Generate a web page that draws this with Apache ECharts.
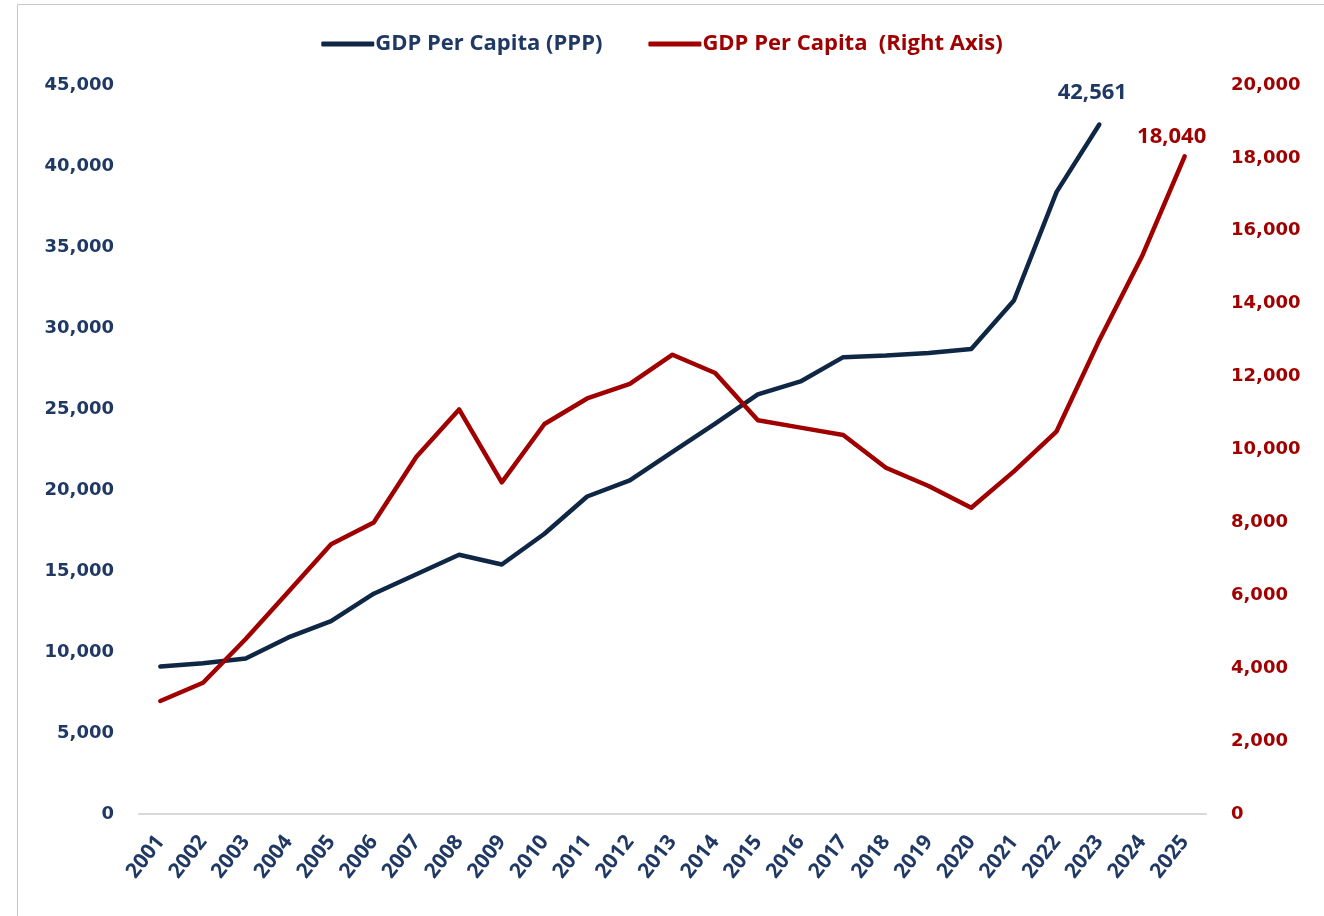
<!DOCTYPE html>
<html>
<head>
<meta charset="utf-8">
<script src="https://cdn.jsdelivr.net/npm/echarts@6/dist/echarts.min.js"></script>
<style>
  html, body { margin: 0; padding: 0; background: #fff; }
  #wrap { position: relative; width: 1324px; height: 916px; overflow: hidden; }
  #frame { position: absolute; left: 17px; top: 4px; width: 1400px; height: 1000px;
           border-left: 1px solid #c8c8c8; border-top: 1px solid #c8c8c8; }
  #chart { position: absolute; left: 0; top: 0; width: 1324px; height: 916px; }
</style>
</head>
<body>
<div id="wrap">
  <div id="frame"></div>
  <div id="chart"></div>
</div>
<script>
// data
var years = ['2001', '2002', '2003', '2004', '2005', '2006', '2007', '2008', '2009', '2010',
  '2011', '2012', '2013', '2014', '2015', '2016', '2017', '2018', '2019', '2020',
  '2021', '2022', '2023', '2024', '2025'];
var gdpPpp = [9100, 9300, 9600, 10900, 11900, 13600, 14800, 16000, 15400, 17300,
  19600, 20600, 22350, 24100, 25900, 26700, 28200, 28300, 28460, 28700,
  31700, 38400, 42561, null, null];
var gdpNominal = [3100, 3600, 4800, 6100, 7400, 8000, 9800, 11100, 9100, 10700,
  11400, 11800, 12600, 12100, 10800, 10600, 10400, 9500, 9000, 8400,
  9400, 10500, 13000, 15300, 18040];

var navy = '#0f2744';
var navyText = '#1f3864';
var red = '#a00000';

var fmt = function (v) { return Number(v).toLocaleString('en-US'); };

var chartDom = document.getElementById('chart');
var myChart = echarts.init(chartDom);
var option;

// only label the last point of each line (line labels need a symbol, so give it a tiny one)
var ppSeries = gdpPpp.map(function (v, i) {
  if (i === 22) {
    return {
      value: v, symbol: 'circle', symbolSize: 1,
      label: { show: true, position: 'top', distance: 20, offset: [-7, 0], color: navyText }
    };
  }
  return v;
});
var nomSeries = gdpNominal.map(function (v, i) {
  if (i === gdpNominal.length - 1) {
    return {
      value: v, symbol: 'circle', symbolSize: 1,
      label: { show: true, position: 'top', distance: 8, offset: [-13, 0], color: red }
    };
  }
  return v;
});

option = {
  animation: false,
  legend: {
    top: 28,
    left: 'center',
    itemWidth: 53,
    itemHeight: 5,
    itemGap: 46,
    icon: 'roundRect',
    textStyle: {
      fontFamily: 'Open Sans',
      fontWeight: 'bold',
      fontSize: 22,
      padding: [0, 0, 0, -4]
    },
    data: [
      { name: 'GDP Per Capita (PPP)', textStyle: { color: navyText } },
      { name: 'GDP Per Capita  (Right Axis)', textStyle: { color: red } }
    ]
  },
  grid: {
    left: 139,
    right: 118,
    top: 85,
    bottom: 102,
    containLabel: false
  },
  xAxis: {
    type: 'category',
    data: years,
    boundaryGap: true,
    axisLine: { lineStyle: { color: '#d9d9d9', width: 2 } },
    axisTick: { show: false },
    axisLabel: {
      rotate: 52,
      margin: 24,
      interval: 0,
      color: navyText,
      fontFamily: 'Open Sans',
      fontWeight: 'bold',
      fontSize: 21
    }
  },
  yAxis: [
    {
      type: 'value',
      min: 0,
      max: 45000,
      interval: 5000,
      splitLine: { show: false },
      axisLine: { show: false },
      axisTick: { show: false },
      axisLabel: {
        margin: 25,
        color: navyText,
        fontFamily: 'DejaVu Sans',
        fontWeight: 'bold',
        fontSize: 18,
        formatter: fmt
      }
    },
    {
      type: 'value',
      min: 0,
      max: 20000,
      interval: 2000,
      position: 'right',
      splitLine: { show: false },
      axisLine: { show: false },
      axisTick: { show: false },
      axisLabel: {
        margin: 25,
        color: red,
        fontFamily: 'DejaVu Sans',
        fontWeight: 'bold',
        fontSize: 18,
        formatter: fmt
      }
    }
  ],
  series: [
    {
      name: 'GDP Per Capita (PPP)',
      type: 'line',
      data: ppSeries,
      yAxisIndex: 0,
      symbol: 'none',
      lineStyle: { color: navy, width: 4.5, cap: 'round', join: 'round' },
      itemStyle: { color: navy },
      label: {
        show: false,
        fontFamily: 'Open Sans',
        fontWeight: 'bold',
        fontSize: 22,
        formatter: function (p) { return fmt(p.value); }
      }
    },
    {
      name: 'GDP Per Capita  (Right Axis)',
      type: 'line',
      data: nomSeries,
      yAxisIndex: 1,
      symbol: 'none',
      lineStyle: { color: red, width: 4.5, cap: 'round', join: 'round' },
      itemStyle: { color: red },
      label: {
        show: false,
        fontFamily: 'Open Sans',
        fontWeight: 'bold',
        fontSize: 22,
        formatter: function (p) { return fmt(p.value); }
      }
    }
  ]
};

option && myChart.setOption(option);
</script>
</body>
</html>
